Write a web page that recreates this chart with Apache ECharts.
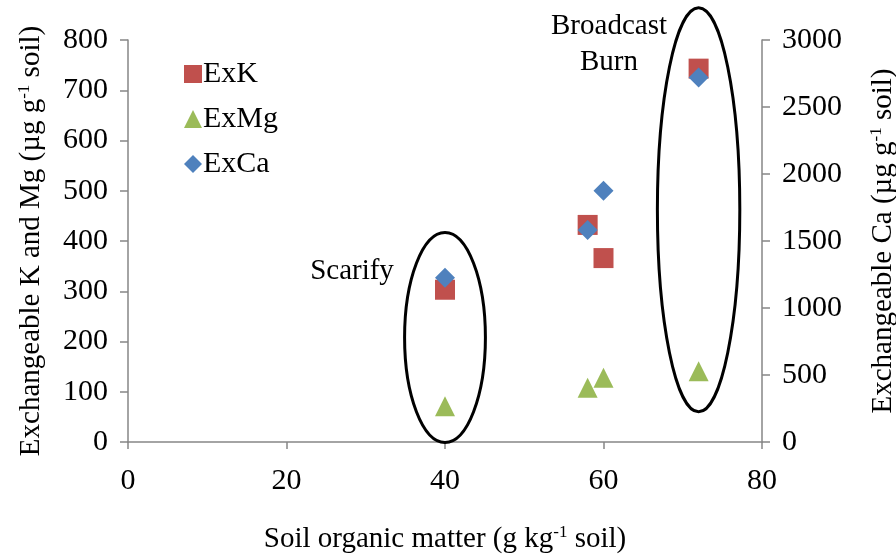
<!DOCTYPE html>
<html>
<head>
<meta charset="utf-8">
<script src="https://cdn.jsdelivr.net/npm/echarts@6/dist/echarts.min.js"></script>
<style>
  html, body { margin: 0; padding: 0; background: #fff; }
  #chart { width: 896px; height: 554px; }
</style>
</head>
<body>
<div id="chart"></div>
<script>
// soil organic matter (g/kg) for each site
const organicMatter = [40, 58, 60, 72]
// exchangeable cations (ug/g soil)
const exK = [303, 432, 366, 743]
const exMg = [71, 108, 128, 141]
const exCa = [1225, 1582, 1875, 2720]

// circled groups: [center x, center y (left axis), half width, half height] in data units
const scarifyRing = [40, 208, 5.1, 209]
const burnRing = [72, 462, 5.2, 402]

const xTicks = [0, 80, 20]   // min, max, interval
const leftTicks = [0, 800, 100]
const rightTicks = [0, 3000, 500]

const font = 'Liberation Serif'
const axisGray = '#868686'

function pairs(xs, ys) {
  return xs.map((x, i) => [x, ys[i]])
}

// axis title style, with a small raised "-1"
function titleStyle() {
  return {
    fontFamily: font, fontSize: 29, color: '#000',
    rich: {
      t: { fontFamily: font, fontSize: 29, color: '#000' },
      sup: { fontFamily: font, fontSize: 17, color: '#000', padding: [0, 0, 13, 0] }
    }
  }
}

function yAxisBase(ticks, name, gap, side) {
  return {
    type: 'value',
    position: side,
    min: ticks[0],
    max: ticks[1],
    interval: ticks[2],
    name: name,
    nameLocation: 'middle',
    nameRotate: 90,
    nameGap: gap,
    nameTextStyle: titleStyle(),
    axisLine: { show: true, lineStyle: { color: axisGray, width: 1.5 } },
    axisTick: { show: true, length: 8, lineStyle: { color: axisGray, width: 1.5 } },
    splitLine: { show: false },
    axisLabel: {
      fontFamily: font, fontSize: 30, color: '#000', margin: 20,
      formatter: v => String(v)
    }
  }
}

const chart = echarts.init(document.getElementById('chart'))

chart.setOption({
  animation: false,
  textStyle: { fontFamily: font, color: '#000' },
  grid: { left: 128, right: 134, top: 40, bottom: 112, outerBoundsMode: 'none', containLabel: false },
  legend: {
    data: ['ExK', 'ExMg', 'ExCa'],
    orient: 'vertical',
    left: 179,
    top: 54,
    itemWidth: 18,
    itemHeight: 18,
    itemGap: 15,
    textStyle: { fontFamily: font, fontSize: 30, color: '#000', padding: [0, 0, 0, -4] }
  },
  xAxis: {
    type: 'value',
    min: xTicks[0],
    max: xTicks[1],
    interval: xTicks[2],
    name: '{t|Soil organic matter (g kg}{sup|-1}{t| soil)}',
    nameLocation: 'middle',
    nameGap: 82,
    nameTextStyle: titleStyle(),
    axisLine: { lineStyle: { color: axisGray, width: 1.5 } },
    axisTick: { show: true, length: 7, lineStyle: { color: axisGray, width: 1.5 } },
    splitLine: { show: false },
    axisLabel: { fontFamily: font, fontSize: 30, color: '#000', margin: 24 }
  },
  yAxis: [
    yAxisBase(leftTicks, '{t|Exchangeable K and Mg (\u00b5g g}{sup|-1}{t| soil)}', 82, 'left'),
    yAxisBase(rightTicks, '{t|Exchangeable Ca (\u00b5g g}{sup|-1}{t| soil)}', 106, 'right')
  ],
  graphic: [
    {
      type: 'text', x: 352, y: 271,
      style: { text: 'Scarify', fontFamily: font, fontSize: 29, fill: '#000', align: 'center', verticalAlign: 'middle' }
    },
    {
      type: 'text', x: 609, y: 44,
      style: { text: 'Broadcast\nBurn', fontFamily: font, fontSize: 29, fill: '#000', align: 'center', verticalAlign: 'middle', lineHeight: 36 }
    }
  ],
  series: [
    {
      name: 'rings',
      type: 'custom',
      clip: false,
      silent: true,
      data: [scarifyRing, burnRing],
      renderItem(params, api) {
        const c = api.coord([api.value(0), api.value(1)])
        const s = api.size([api.value(2), api.value(3)])
        return {
          type: 'ellipse',
          shape: { cx: c[0], cy: c[1], rx: s[0], ry: s[1] },
          style: { fill: 'none', stroke: '#000', lineWidth: 3 }
        }
      },
      z: 1
    },
    {
      name: 'ExK',
      type: 'scatter',
      yAxisIndex: 0,
      symbol: 'rect',
      symbolSize: 20,
      itemStyle: { color: '#C0504D', opacity: 1 },
      data: pairs(organicMatter, exK),
      z: 2
    },
    {
      name: 'ExMg',
      type: 'scatter',
      yAxisIndex: 0,
      symbol: 'triangle',
      symbolSize: 20,
      itemStyle: { color: '#9BBB59', opacity: 1 },
      data: pairs(organicMatter, exMg),
      z: 3
    },
    {
      name: 'ExCa',
      type: 'scatter',
      yAxisIndex: 1,
      symbol: 'diamond',
      symbolSize: 20,
      itemStyle: { color: '#4F81BD', opacity: 1 },
      data: pairs(organicMatter, exCa),
      z: 4
    }
  ]
})
</script>
</body>
</html>
